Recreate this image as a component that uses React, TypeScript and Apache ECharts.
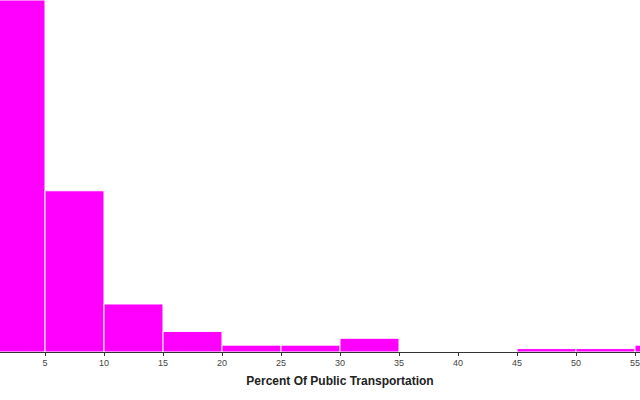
import React, { useEffect, useRef } from "react";
import * as echarts from "echarts";

const binStarts = [0, 5, 10, 15, 20, 25, 30, 35, 40, 45, 50, 55];
const binWidth = 5;
const counts = [150, 47, 14, 6, 2, 2, 4, 0, 0, 1, 1, 2];
const xTitle = "Percent Of Public Transportation";

export default function App() {
  const ref = useRef<HTMLDivElement>(null);
  useEffect(() => {
    if (!ref.current) return;
    const chart = echarts.init(ref.current, null, { renderer: "svg" });
    const data = binStarts.map((s, i) => [s, s + binWidth, counts[i]]);
    chart.setOption({
      animation: false,
      grid: {
        left: -14,
        right: -54,
        top: 0,
        bottom: 48,
        containLabel: false,
        outerBoundsMode: "none",
      },
      xAxis: {
        type: "value",
        min: 0,
        max: 60,
        interval: 5,
        name: xTitle,
        nameLocation: "middle",
        nameGap: 23,
        nameTextStyle: { fontFamily: "Liberation Sans", fontWeight: "bold", fontSize: 12, color: "#222" },
        axisLine: { show: true, lineStyle: { color: "#333", width: 1 } },
        axisTick: { show: true, length: 4, lineStyle: { color: "#333" } },
        axisLabel: {
          fontFamily: "Liberation Sans",
          fontSize: 9,
          color: "#444",
          margin: 6,
          formatter: (v: number) => (v === 0 || v === 60 ? "" : String(v)),
        },
        splitLine: { show: false },
      },
      yAxis: {
        type: "value",
        min: 0,
        max: 102.6,
        show: false,
        splitLine: { show: false },
      },
      series: [
        {
          type: "custom",
          clip: true,
          data,
          encode: { x: [0, 1], y: 2 },
          renderItem: (params: any, api: any) => {
            const x0 = api.value(0);
            const x1 = api.value(1);
            const c = api.value(2);
            if (!c) return null;
            const p0 = api.coord([x0, c]);
            const p1 = api.coord([x1, 0]);
            const rect = {
              x: p0[0],
              y: p0[1],
              width: p1[0] - p0[0],
              height: p1[1] - p0[1],
            };
            const clipped = echarts.graphic.clipRectByRect(rect, params.coordSys);
            if (!clipped) return null;
            return {
              type: "rect",
              shape: clipped,
              style: { fill: "#ff00ff", stroke: "#ffffff", lineWidth: 1 },
            };
          },
        },
      ],
    });
    return () => chart.dispose();
  }, []);
  return (
    <div
      ref={ref}
      style={{ position: "fixed", left: 0, top: 0, width: 640, height: 400, background: "#fff" }}
    />
  );
}
